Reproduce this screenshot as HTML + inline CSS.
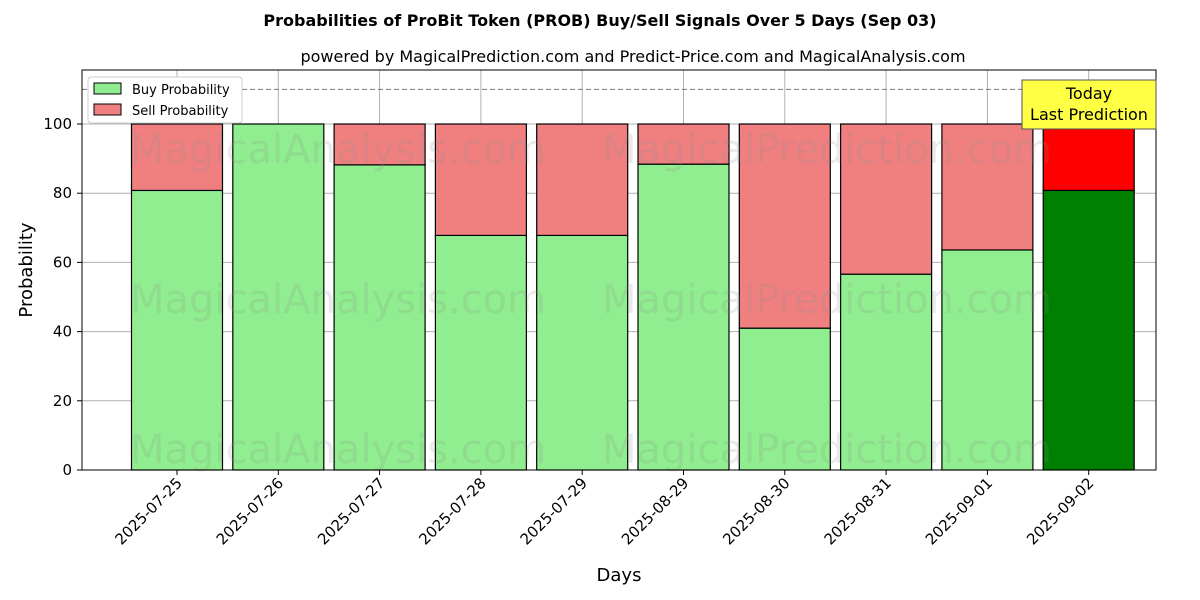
<!DOCTYPE html>
<html><head><meta charset="utf-8"><style>body{margin:0;background:#fff}svg{display:block;font-family:"DejaVu Sans","Liberation Sans",sans-serif}</style></head>
<body>
<svg id="chart" width="1200" height="600" viewBox="0 0 1200 600">
<text x="600" y="26" text-anchor="middle" font-size="16" font-weight="bold">Probabilities of ProBit Token (PROB) Buy/Sell Signals Over 5 Days (Sep 03)</text>
<text x="633" y="62" text-anchor="middle" font-size="16">powered by MagicalPrediction.com and Predict-Price.com and MagicalAnalysis.com</text>
<g id="grid"></g>
<g id="bars"></g>
<g id="wm" font-size="40" fill="#888" fill-opacity="0.18">
<text x="130" y="163">MagicalAnalysis.com</text><text x="602" y="163">MagicalPrediction.com</text>
<text x="130" y="313">MagicalAnalysis.com</text><text x="602" y="313">MagicalPrediction.com</text>
<text x="130" y="463">MagicalAnalysis.com</text><text x="602" y="463">MagicalPrediction.com</text>
</g>
<line x1="82" x2="1156" y1="89.4" y2="89.4" stroke="#777" stroke-dasharray="5,3"/>
<rect x="82" y="70" width="1074" height="400" fill="none" stroke="#000"/>
<g id="axes" font-size="15"></g>
<text x="32" y="270" transform="rotate(-90 32 270)" text-anchor="middle" font-size="18">Probability</text>
<text x="619" y="581" text-anchor="middle" font-size="18">Days</text>
<g>
<rect x="88" y="77" width="154" height="46" fill="#fff" stroke="#ccc" rx="3"/>
<rect x="94" y="83" width="27" height="11" fill="#90ee90" stroke="#000"/>
<text x="132" y="94" font-size="13">Buy Probability</text>
<rect x="94" y="104" width="27" height="11" fill="#f08080" stroke="#000"/>
<text x="132" y="115" font-size="13">Sell Probability</text>
</g>
<g>
<rect x="1022" y="80" width="134" height="49" fill="#ffff44" stroke="#555"/>
<text x="1089" y="99" text-anchor="middle" font-size="16">Today</text>
<text x="1089" y="120" text-anchor="middle" font-size="16">Last Prediction</text>
</g>
</svg>
<script>
const categories=["2025-07-25","2025-07-26","2025-07-27","2025-07-28","2025-07-29","2025-08-29","2025-08-30","2025-08-31","2025-09-01","2025-09-02"];
const buyValues=[80.8,100,88.2,67.8,67.8,88.4,41.0,56.6,63.6,80.8];
const sellValues=[19.2,0,11.8,32.2,32.2,11.6,59.0,43.4,36.4,19.2];
const yTicks=[0,20,40,60,80,100];
const NS="http://www.w3.org/2000/svg";
const y=v=>470-v*3.46;
const x=i=>177+i*101.3;
const bw=91;
function mk(tag,attrs,parent){const e=document.createElementNS(NS,tag);for(const k in attrs)e.setAttribute(k,attrs[k]);parent.appendChild(e);return e;}
const grid=document.getElementById('grid'),bars=document.getElementById('bars'),axes=document.getElementById('axes');
yTicks.forEach(t=>{
 const g=mk('line',{x1:82,x2:1156,y1:y(t),y2:y(t),stroke:'#b0b0b0','stroke-width':1},grid);
 
 
 const tk=mk('line',{x1:77,x2:82,y1:y(t),y2:y(t),stroke:'#000'},axes);
 
 
 const l=mk('text',{x:72,y:y(t)+5,'text-anchor':'end'},axes);l.textContent=t;
 
 
});
categories.forEach((c,i)=>{
 const g=mk('line',{x1:x(i),x2:x(i),y1:70,y2:470,stroke:'#b0b0b0'},grid);
 
 
 const last=i===categories.length-1;
 const b=mk('rect',{x:x(i)-bw/2,y:y(buyValues[i]),width:bw,height:buyValues[i]*3.46,fill:last?'#008000':'#90ee90',stroke:'#000','stroke-width':1.2},bars);
 
 
 const s=mk('rect',{x:x(i)-bw/2,y:y(buyValues[i]+sellValues[i]),width:bw,height:sellValues[i]*3.46,fill:last?'#ff0000':'#f08080',stroke:'#000','stroke-width':1.2},bars);
 
 
 const tk=mk('line',{x1:x(i),x2:x(i),y1:470,y2:475,stroke:'#000'},axes);
 
 
 const l=mk('text',{x:x(i)+6,y:484,'text-anchor':'end',transform:`rotate(-45 ${x(i)+6} 484)`},axes);l.textContent=c;
 
 
});
</script>
</body></html>
